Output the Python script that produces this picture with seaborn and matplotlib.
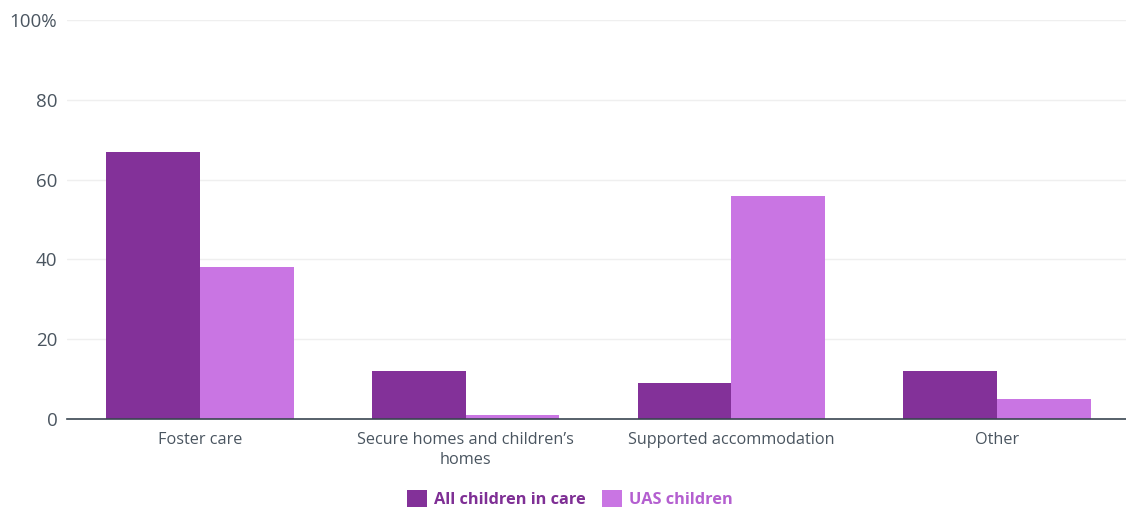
import matplotlib
matplotlib.use("Agg")
import matplotlib.pyplot as plt
import seaborn as sns
import pandas as pd
from matplotlib.patches import Patch

categories = ["Foster care", "Secure homes and children\u2019s\nhomes", "Supported accommodation", "Other"]
series_names = ["All children in care", "UAS children"]
all_children = [67, 12, 9, 12]
uas_children = [38, 1, 56, 5]
y_ticks = [0, 20, 40, 60, 80, 100]
y_labels = ["0", "20", "40", "60", "80", "100%"]
colors = ["#833199", "#c975e3"]

sns.set_theme(style="white")
plt.rcParams['font.family'] = ['Open Sans', 'DejaVu Sans']

df = pd.DataFrame({
    "category": categories * 2,
    "series": [series_names[0]] * 4 + [series_names[1]] * 4,
    "value": all_children + uas_children,
})

fig = plt.figure(figsize=(11.26, 5.09), dpi=100)
ax = fig.add_axes([67/1126, 1-419/509, (1130-67)/1126, (419-20)/509])
sns.barplot(data=df, x="category", y="value", hue="series", palette=colors,
            width=0.706, gap=0, ax=ax, legend=False, saturation=1, edgecolor="none")

ax.set_ylim(0, 100)
ax.set_xlim(-0.5, 3.5)
ax.set_yticks(y_ticks)
ax.set_yticklabels(y_labels)
for y in y_ticks[1:]:
    ax.axhline(y, color="#efefef", lw=1, zorder=0)
ax.set_xlabel("")
ax.set_ylabel("")
for s in ["top", "right", "left"]:
    ax.spines[s].set_visible(False)
ax.spines["bottom"].set_color("#3a4550")
ax.spines["bottom"].set_linewidth(1.2)
ax.tick_params(axis="both", length=0, labelcolor="#4a5560")
ax.tick_params(axis="y", pad=7, labelsize=13.5)
ax.tick_params(axis="x", pad=9, labelsize=11.7)
for lbl in ax.get_xticklabels():
    lbl.set_linespacing(1.4)

handles = [Patch(facecolor=c, edgecolor="none") for c in colors]
leg = fig.legend(handles, series_names, loc="center", bbox_to_anchor=(570/1126, 1-499/509),
                 ncol=2, frameon=False, handlelength=1.2, handleheight=1.2,
                 handletextpad=0.45, columnspacing=1.0,
                 prop={"weight": "bold", "size": 11.8})
for t, c in zip(leg.get_texts(), ["#7f2f95", "#b45fd0"]):
    t.set_color(c)

fig.savefig("out.png", dpi=100)
